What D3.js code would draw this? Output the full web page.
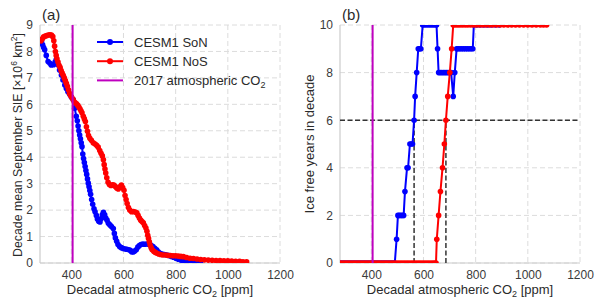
<!DOCTYPE html>
<html>
<head>
<meta charset="utf-8">
<script src="https://cdn.jsdelivr.net/npm/d3@7"></script>
<style>
  body { margin: 0; background: #fff; }
  svg { font-family: "Liberation Sans", Arial, sans-serif; }
</style>
</head>
<body>
<svg id="chart" width="600" height="305"></svg>
<script>
// Panel (a): decade mean September sea-ice extent vs decadal CO2
const co2SoN = [286, 290, 294, 298, 304, 311, 318, 323, 332, 338, 342, 349, 355, 362, 368, 375, 381, 387, 394, 400, 407,
    413, 419, 423, 426, 429, 432, 435, 438, 441, 444, 447, 450, 453, 456, 459, 462, 465, 468, 471, 474, 478, 482, 487,
    491, 496, 500, 505, 510, 515, 519, 523, 528, 532, 537, 542, 548, 554, 561, 565, 569, 574, 579, 585, 592, 599, 606,
    613, 620, 626, 631, 637, 643, 649, 655, 661, 667, 674, 681, 689, 697, 705, 713, 720, 727, 733, 740, 748, 757, 766,
    775, 784, 792, 801, 810, 820, 830, 842, 855, 868, 882, 895];
const sieSoN = [8.37, 8.25, 8.15, 8.06, 7.85, 7.62, 7.55, 7.49, 7.5, 7.6, 7.68, 7.5, 7.3, 7.11, 6.92, 6.73, 6.6, 6.48,
    6.38, 6.28, 6.18, 5.85, 5.55, 5.38, 5.18, 5.0, 4.84, 4.7, 4.55, 4.4, 4.12, 3.95, 3.8, 3.65, 3.5, 3.35, 3.18, 3.02,
    2.88, 2.74, 2.6, 2.4, 2.22, 2.05, 1.94, 1.8, 1.66, 1.58, 1.55, 1.68, 1.82, 1.92, 1.82, 1.7, 1.62, 1.5, 1.44, 1.38,
    1.3, 1.12, 0.95, 0.82, 0.7, 0.62, 0.58, 0.55, 0.53, 0.52, 0.5, 0.48, 0.43, 0.42, 0.45, 0.5, 0.6, 0.66, 0.7, 0.72,
    0.71, 0.72, 0.7, 0.68, 0.62, 0.56, 0.5, 0.42, 0.37, 0.34, 0.32, 0.3, 0.28, 0.25, 0.22, 0.18, 0.14, 0.11, 0.08, 0.06,
    0.05, 0.04, 0.03, 0.02];

const co2NoS = [284, 289, 294, 300, 306, 312, 318, 324, 329, 333, 336, 339, 342, 345, 349, 353, 357, 361, 365, 369, 373,
    377, 381, 385, 389, 393, 397, 402, 407, 411, 415, 420, 425, 429, 433, 437, 441, 446, 450, 454, 458, 462, 466, 471,
    477, 484, 491, 497, 503, 509, 514, 519, 523, 526, 529, 532, 536, 541, 546, 552, 558, 563, 568, 574, 580, 586, 592,
    597, 602, 606, 610, 614, 619, 624, 631, 638, 645, 651, 656, 661, 666, 671, 676, 681, 686, 690, 693, 696, 699, 702,
    706, 710, 716, 722, 728, 735, 742, 750, 760, 770, 780, 790, 800, 810, 820, 830, 842, 855, 868, 882, 896, 910, 925,
    940, 955, 970, 985, 1000, 1015, 1030, 1045, 1058, 1072];
const sieNoS = [8.4, 8.48, 8.55, 8.58, 8.6, 8.62, 8.63, 8.62, 8.56, 8.4, 8.2, 8.0, 7.85, 7.72, 7.6, 7.48, 7.4, 7.28,
    7.18, 7.1, 7.0, 6.9, 6.8, 6.68, 6.55, 6.42, 6.33, 6.26, 6.18, 6.1, 6.06, 6.02, 5.96, 5.9, 5.83, 5.76, 5.68, 5.55,
    5.45, 5.35, 5.15, 4.98, 4.82, 4.72, 4.64, 4.55, 4.5, 4.45, 4.38, 4.25, 4.15, 4.05, 3.9, 3.72, 3.55, 3.4, 3.22, 3.05,
    2.97, 2.93, 2.96, 2.95, 2.9, 2.84, 2.8, 2.88, 2.95, 2.85, 2.75, 2.55, 2.4, 2.25, 2.1, 2.0, 1.94, 1.95, 1.93, 1.9,
    1.8, 1.7, 1.62, 1.57, 1.52, 1.42, 1.32, 1.2, 1.05, 0.93, 0.8, 0.68, 0.58, 0.5, 0.44, 0.4, 0.37, 0.34, 0.32, 0.3,
    0.3, 0.29, 0.28, 0.27, 0.27, 0.26, 0.25, 0.24, 0.21, 0.18, 0.17, 0.15, 0.13, 0.12, 0.11, 0.1, 0.09, 0.09, 0.08,
    0.08, 0.07, 0.06, 0.06, 0.05, 0.05];

// Panel (b): ice free years in decade vs decadal CO2
const co2IceSoN = [285, 294, 303, 312, 321, 330, 339, 348, 357, 366, 375, 384, 393, 402, 411, 420, 429, 438, 447, 456,
    465, 474, 482, 490, 497, 502, 507, 513, 519, 524, 529, 537, 541, 548, 553, 558, 564, 568, 574, 580, 585, 590, 597,
    604, 612, 620, 628, 636, 644, 650, 654, 658, 664, 670, 676, 682, 688, 694, 700, 706, 714, 720, 727, 733, 740, 747,
    754, 761, 768, 775, 782, 789, 793, 805, 818, 832, 846, 860, 875, 890];
const iceSoN = [0, 0, 0, 0, 0, 0, 0, 0, 0, 0, 0, 0, 0, 0, 0, 0, 0, 0, 0, 0,
    0, 0, 0, 0, 1, 2, 2, 2, 2, 2, 3, 4, 4, 5, 5, 5, 6, 7, 8, 9, 9, 9, 10,
    10, 10, 10, 10, 10, 10, 10, 9, 8, 8, 8, 8, 8, 8, 8, 8, 8, 7, 8, 9, 9, 9, 9,
    9, 9, 9, 9, 9, 9, 10, 10, 10, 10, 10, 10, 10, 10];

const co2IceNoS = [283, 292, 301, 310, 319, 328, 337, 346, 355, 364, 373, 382, 391, 400, 409, 418, 427, 436, 445, 454,
    463, 472, 481, 490, 499, 508, 517, 526, 535, 544, 553, 562, 571, 580, 589, 598, 607, 616, 625, 634, 642, 648, 651,
    658, 665, 673, 680, 686, 693, 701, 708, 714, 722, 731, 740, 750, 760, 770, 781, 792, 803, 815, 827, 840, 853, 866,
    880, 894, 908, 923, 938, 953, 968, 984, 1000, 1016, 1032, 1048, 1060, 1072];
const iceNoS = [0, 0, 0, 0, 0, 0, 0, 0, 0, 0, 0, 0, 0, 0, 0, 0, 0, 0, 0, 0,
    0, 0, 0, 0, 0, 0, 0, 0, 0, 0, 0, 0, 0, 0, 0, 0, 0, 0, 0, 0, 0, 0, 1,
    2, 3, 4, 5, 6, 7, 8, 9, 10, 10, 10, 10, 10, 10, 10, 10, 10, 10, 10, 10, 10, 10, 10,
    10, 10, 10, 10, 10, 10, 10, 10, 10, 10, 10, 10, 10, 10];

const co2In2017 = 405;
const iceThreshold = 6;
const crossCO2 = [564, 686];

const xDomain = [280, 1200];
const xTicks = [400, 600, 800, 1000, 1200];
const sieDomain = [0, 9];
const sieTicks = [0, 1, 2, 3, 4, 5, 6, 7, 8, 9];
const iceDomain = [0, 10];
const iceTicks = [0, 2, 4, 6, 8, 10];

const seriesNames = ["CESM1 SoN", "CESM1 NoS"];
const seriesColors = ["#0000ff", "#ff0000"];
const co2Color = "#bf00bf";

const svg = d3.select("#chart");
const plotTop = 25, plotBottom = 263;

function addCO2Label(text, prefix, suffix, big, small) {
    text.append("tspan").text(prefix);
    text.append("tspan").attr("font-size", small).attr("dy", 3).text("2");
    if (suffix) text.append("tspan").attr("font-size", big).attr("dy", -3).text(suffix);
}

function panel(left, right, yDomain, yTicks, tag, id) {
    const x = d3.scaleLinear().domain(xDomain).range([left, right]);
    const y = d3.scaleLinear().domain(yDomain).range([plotBottom, plotTop]);
    const g = svg.append("g");

    // grid
    g.append("g").selectAll("line").data(yTicks).join("line")
        .attr("x1", left).attr("x2", right)
        .attr("y1", d => y(d)).attr("y2", d => y(d))
        .attr("stroke", "#dcdcdc").attr("stroke-dasharray", "5,3");
    g.append("g").selectAll("line").data(xTicks).join("line")
        .attr("x1", d => x(d)).attr("x2", d => x(d))
        .attr("y1", plotTop).attr("y2", plotBottom)
        .attr("stroke", "#dcdcdc").attr("stroke-dasharray", "5,3");
    // spines
    g.append("line").attr("x1", left).attr("x2", left).attr("y1", plotTop).attr("y2", plotBottom)
        .attr("stroke", "#cccccc").attr("stroke-width", 1.2);
    g.append("line").attr("x1", left).attr("x2", right).attr("y1", plotBottom).attr("y2", plotBottom)
        .attr("stroke", "#cccccc").attr("stroke-width", 1.2);

    const xa = g.append("g").attr("transform", `translate(0,${plotBottom})`)
        .call(d3.axisBottom(x).tickValues(xTicks).tickFormat(d3.format("d")).tickSize(0).tickPadding(7));
    const ya = g.append("g").attr("transform", `translate(${left},0)`)
        .call(d3.axisLeft(y).tickValues(yTicks).tickFormat(d3.format("d")).tickSize(0).tickPadding(7));
    [xa, ya].forEach(a => {
        a.select(".domain").remove();
        a.selectAll("text").attr("font-size", 12).attr("fill", "#3a3a3a")
            .attr("font-family", "Liberation Sans, Arial, sans-serif");
    });

    const xl = g.append("text").attr("x", (left + right) / 2).attr("y", 294)
        .attr("text-anchor", "middle").attr("font-size", 13).attr("fill", "#2a2a2a");
    addCO2Label(xl, "Decadal atmospheric CO", " [ppm]", 13, 9);

    g.append("text").attr("x", left + 2).attr("y", 20).attr("font-size", 15)
        .attr("fill", "#2a2a2a").text(tag);

    svg.append("clipPath").attr("id", id).append("rect")
        .attr("x", left).attr("y", plotTop).attr("width", right - left).attr("height", plotBottom - plotTop);

    return { x, y, g, clip: g.append("g").attr("clip-path", `url(#${id})`) };
}

function drawSeries(p, xs, ys, color) {
    const pts = xs.map((d, i) => [d, ys[i]]);
    p.clip.append("path").datum(pts)
        .attr("fill", "none").attr("stroke", color).attr("stroke-width", 2)
        .attr("d", d3.line().x(d => p.x(d[0])).y(d => p.y(d[1])));
    p.clip.append("g").selectAll("circle").data(pts).join("circle")
        .attr("cx", d => p.x(d[0])).attr("cy", d => p.y(d[1])).attr("r", 2.8)
        .attr("fill", color);
}

// ---- panel (a)
const pa = panel(40, 280, sieDomain, sieTicks, "(a)", "clipA");
drawSeries(pa, co2SoN, sieSoN, seriesColors[0]);
drawSeries(pa, co2NoS, sieNoS, seriesColors[1]);
pa.clip.append("line").attr("x1", pa.x(co2In2017)).attr("x2", pa.x(co2In2017))
    .attr("y1", plotTop).attr("y2", plotBottom).attr("stroke", co2Color).attr("stroke-width", 2);

const ylA = svg.append("text").attr("transform", "translate(22,145) rotate(-90)")
    .attr("text-anchor", "middle").attr("font-size", 12.3).attr("fill", "#2a2a2a");
ylA.append("tspan").text("Decade mean September SIE [\u00d710");
ylA.append("tspan").attr("font-size", 8.5).attr("dy", -5).text("6");
ylA.append("tspan").attr("dy", 5).text(" km");
ylA.append("tspan").attr("font-size", 8.5).attr("dy", -5).text("2");
ylA.append("tspan").attr("dy", 5).text("]");

// legend
const legend = svg.append("g");
const legendRows = [0, 1, 2];
legendRows.forEach(i => {
    const yy = 42 + i * 19.2;
    const color = i < 2 ? seriesColors[i] : co2Color;
    legend.append("line").attr("x1", 97).attr("x2", 123).attr("y1", yy).attr("y2", yy)
        .attr("stroke", color).attr("stroke-width", 2);
    if (i < 2) legend.append("circle").attr("cx", 110).attr("cy", yy).attr("r", 3).attr("fill", color);
    const t = legend.append("text").attr("x", 134).attr("y", yy + 4.5).attr("font-size", 13).attr("fill", "#2a2a2a");
    if (i < 2) t.text(seriesNames[i]);
    else addCO2Label(t, "2017 atmospheric CO", "", 13, 9);
});

// ---- panel (b)
const pb = panel(340, 580, iceDomain, iceTicks, "(b)", "clipB");
pb.clip.append("line").attr("x1", pb.x(xDomain[0])).attr("x2", pb.x(xDomain[1]))
    .attr("y1", pb.y(iceThreshold)).attr("y2", pb.y(iceThreshold))
    .attr("stroke", "#333").attr("stroke-width", 1.5).attr("stroke-dasharray", "5,2.5");
crossCO2.forEach(c => {
    pb.clip.append("line").attr("x1", pb.x(c)).attr("x2", pb.x(c))
        .attr("y1", pb.y(0)).attr("y2", pb.y(iceThreshold))
        .attr("stroke", "#333").attr("stroke-width", 1.5).attr("stroke-dasharray", "5,2.5");
});
drawSeries(pb, co2IceSoN, iceSoN, seriesColors[0]);
drawSeries(pb, co2IceNoS, iceNoS, seriesColors[1]);
pb.clip.append("line").attr("x1", pb.x(co2In2017)).attr("x2", pb.x(co2In2017))
    .attr("y1", plotTop).attr("y2", plotBottom).attr("stroke", co2Color).attr("stroke-width", 2);

svg.append("text").attr("transform", "translate(314,144) rotate(-90)")
    .attr("text-anchor", "middle").attr("font-size", 13).attr("fill", "#2a2a2a")
    .text("Ice free years in decade");
</script>
</body>
</html>
